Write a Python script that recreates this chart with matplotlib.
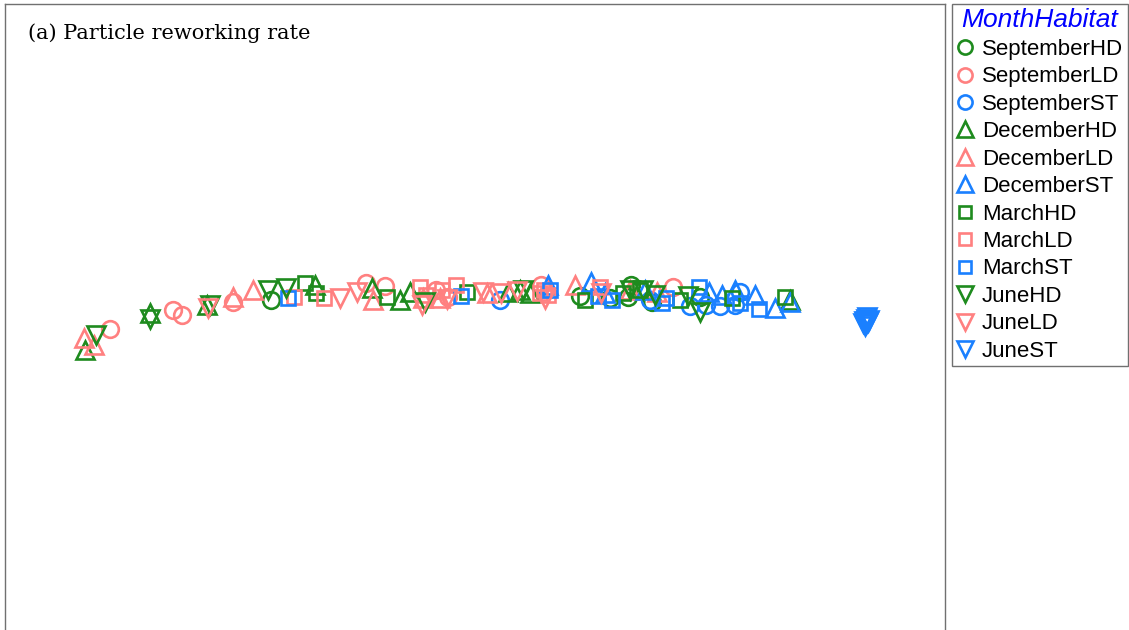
import matplotlib
matplotlib.use('Agg')
import matplotlib.pyplot as plt
from matplotlib.lines import Line2D

# ordination scores (x to the right, y downward)
groups = ['SeptemberHD', 'SeptemberLD', 'SeptemberST',
          'DecemberHD', 'DecemberLD', 'DecemberST',
          'MarchHD', 'MarchLD', 'MarchST',
          'JuneHD', 'JuneLD', 'JuneST']

sep_hd_x = [271, 580, 631, 628, 652, 610, 700]
sep_hd_y = [300, 296, 285, 297, 302, 298, 297]
sep_ld_x = [110, 173, 182, 233, 366, 385, 436, 448, 673, 541]
sep_ld_y = [329, 310, 315, 302, 283, 286, 290, 297, 287, 285]
sep_st_x = [500, 690, 706, 720, 735, 740, 650]
sep_st_y = [300, 306, 305, 306, 305, 292, 300]

dec_hd_x = [85, 150, 207, 315, 372, 400, 410, 508, 530, 520, 790]
dec_hd_y = [350, 313, 305, 285, 288, 300, 292, 292, 293, 290, 300]
dec_ld_x = [84, 94, 233, 253, 373, 423, 487, 575, 657, 630, 440]
dec_ld_y = [338, 345, 297, 290, 300, 298, 293, 285, 292, 290, 298]
dec_st_x = [548, 591, 605, 709, 722, 735, 755, 775, 790, 645]
dec_st_y = [285, 282, 293, 292, 295, 290, 295, 308, 302, 290]

mar_hd_x = [305, 316, 387, 467, 585, 623, 640, 680, 732, 785]
mar_hd_y = [283, 293, 297, 292, 300, 293, 290, 300, 298, 297]
mar_ld_x = [294, 324, 420, 456, 442, 544, 548, 540, 600, 426]
mar_ld_y = [297, 298, 287, 285, 290, 290, 295, 293, 287, 295]
mar_st_x = [288, 461, 598, 612, 662, 666, 699, 740, 759, 550]
mar_st_y = [298, 296, 296, 300, 303, 298, 287, 303, 309, 290]

jun_hd_x = [96, 150, 210, 268, 286, 425, 523, 630, 643, 655, 700, 688]
jun_hd_y = [335, 319, 305, 290, 288, 302, 290, 290, 290, 295, 312, 296]
jun_ld_x = [208, 340, 357, 422, 447, 483, 501, 545, 517, 601]
jun_ld_y = [308, 298, 292, 305, 299, 292, 293, 299, 291, 293]
jun_st_x = [864, 866, 868, 866, 863, 869, 866, 865, 867]
jun_st_y = [321, 319, 322, 324, 323, 320, 321, 326, 317]

xs = [sep_hd_x, sep_ld_x, sep_st_x, dec_hd_x, dec_ld_x, dec_st_x,
      mar_hd_x, mar_ld_x, mar_st_x, jun_hd_x, jun_ld_x, jun_st_x]
ys = [sep_hd_y, sep_ld_y, sep_st_y, dec_hd_y, dec_ld_y, dec_st_y,
      mar_hd_y, mar_ld_y, mar_st_y, jun_hd_y, jun_ld_y, jun_st_y]

green, pink, blue = '#1E8B1E', '#FF8080', '#1A80FF'
colors = [green, pink, blue] * 4
markers = ['o'] * 3 + ['^'] * 3 + ['s'] * 3 + ['v'] * 3
msizes = {'o': 12, '^': 13, 's': 10, 'v': 13}

fig = plt.figure(figsize=(11.29, 6.30), dpi=100)
ax = fig.add_axes([5 / 1129, -10 / 630, 940 / 1129, 636 / 630])

for x, y, c, m in zip(xs, ys, colors, markers):
    ax.plot(x, y, linestyle='none', marker=m, markersize=msizes[m],
            markerfacecolor='none', markeredgecolor=c, markeredgewidth=1.9)

ax.set_xlim(5, 945)
ax.set_ylim(640, 4)
ax.set_xticks([])
ax.set_yticks([])
for s in ax.spines.values():
    s.set_color('#707070')
    s.set_linewidth(1.0)

fig.text(28 / 1129, 1 - 33 / 630, '(a) Particle reworking rate',
         family='DejaVu Serif', fontsize=15, va='center', ha='left')

handles = [Line2D([], [], linestyle='none', marker=m, markersize=msizes[m] * 0.85,
                  markerfacecolor='none', markeredgecolor=c, markeredgewidth=1.9)
           for c, m in zip(colors, markers)]
leg = fig.legend(handles, groups, loc='upper left',
                 bbox_to_anchor=(952 / 1129, 1 - 4 / 630),
                 title='MonthHabitat', frameon=True, fancybox=False,
                 edgecolor='#707070', framealpha=1, borderaxespad=0,
                 prop={'family': 'Liberation Sans', 'size': 16},
                 handlelength=0.75, handletextpad=0.4, borderpad=0.2,
                 labelspacing=0.29)
leg.get_title().set_fontsize(19)
leg.get_title().set_style('italic')
leg.get_title().set_color('#0000FF')
leg.get_title().set_family('Liberation Sans')
leg.get_frame().set_linewidth(1.0)

fig.savefig('out.png', dpi=100)
